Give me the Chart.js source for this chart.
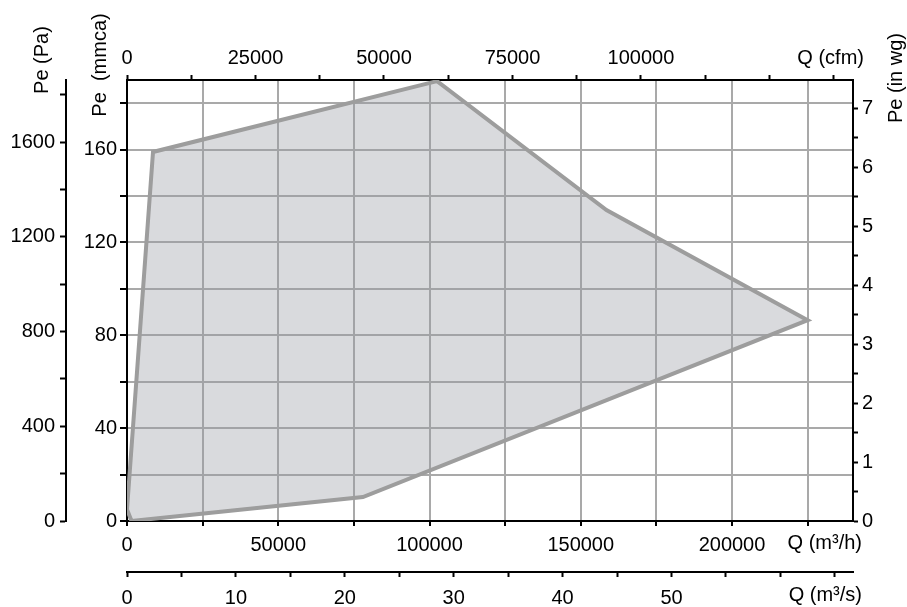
<!DOCTYPE html>
<html>
<head>
<meta charset="utf-8">
<script src="https://cdn.jsdelivr.net/npm/chart.js@4.4.1/dist/chart.umd.min.js"></script>
<style>
html, body { margin: 0; padding: 0; background: #fff; }
canvas { display: block; }
</style>
</head>
<body>
<canvas id="grafica" width="907" height="607"></canvas>
<script>
// contorno del campo de trabajo: caudal (m3/h) y presion (mmca)
const caudalM3h = [0, 1500, 78000, 225000, 158500, 102500, 8600, 0];
const presionMmca = [5, 0, 10.3, 86.5, 134, 189.5, 159, 5];

// etiquetas visibles de cada eje (las demas marcas van sin texto)
const etiquetasCfm = [0, 25000, 50000, 75000, 100000];
const etiquetasM3h = [0, 50000, 100000, 150000, 200000];
const etiquetasM3s = [0, 10, 20, 30, 40, 50];
const etiquetasPa = [0, 400, 800, 1200, 1600];
const etiquetasMmca = [0, 40, 80, 120, 160];
const etiquetasInwg = [0, 1, 2, 3, 4, 5, 6, 7];

const caudalMax = 240000; // m3/h
const presionMax = 190;   // mmca

const familia = "'Liberation Sans', Arial, sans-serif";
const fuente = { family: familia, size: 20 };

function etiquetas(lista) {
    return v => lista.includes(v) ? String(v) : '';
}

// marcas cada 'paso' desde 0 hasta el maximo del eje
function marcas(paso) {
    return s => {
        const t = [];
        for (let k = 0; k * paso <= s.max + 1e-9; k++) {
            t.push({ value: Math.round(k * paso * 1000) / 1000 });
        }
        s.ticks = t;
    };
}

function eje(extra) {
    const base = {
        type: 'linear',
        min: 0,
        grid: { drawOnChartArea: false, tickLength: 5, tickColor: '#000', tickWidth: 2 },
        border: { color: '#000', width: 2 },
        ticks: { autoSkip: false, maxRotation: 0, color: '#000', font: fuente }
    };
    return {
        ...base, ...extra,
        grid: { ...base.grid, ...(extra.grid || {}) },
        ticks: { ...base.ticks, ...(extra.ticks || {}) }
    };
}

// titulos de los ejes, dibujados sobre el canvas
const titulos = {
    id: 'titulos',
    afterDraw(chart) {
        const { ctx, chartArea: a } = chart;
        ctx.save();
        ctx.fillStyle = '#000';
        ctx.font = `20px ${familia}`;
        ctx.textBaseline = 'middle';
        ctx.textAlign = 'right';
        ctx.fillText('Q (cfm)', a.right + 11, a.top - 22);
        ctx.fillText('Q (m³/h)', a.right + 9, a.bottom + 22);
        ctx.fillText('Q (m³/s)', a.right + 9, a.bottom + 74);

        ctx.textAlign = 'center';
        const vertical = (texto, x, y) => {
            ctx.save();
            ctx.translate(x, y);
            ctx.rotate(-Math.PI / 2);
            ctx.fillText(texto, 0, 0);
            ctx.restore();
        };
        vertical('Pe (Pa)', 42, 60);
        vertical('Pe  (mmca)', 100, 65);
        vertical('Pe (in wg)', 896, 78);
        ctx.restore();
    }
};

new Chart(document.getElementById('grafica'), {
    type: 'line',
    data: {
        datasets: [{
            data: caudalM3h.map((q, i) => ({ x: q, y: presionMmca[i] })),
            borderColor: '#9d9d9d',
            borderWidth: 4,
            backgroundColor: 'rgba(150, 153, 160, 0.36)',
            fill: 'shape',
            pointRadius: 0,
            tension: 0
        }]
    },
    options: {
        responsive: false,
        animation: false,
        layout: { padding: 0 },
        plugins: { legend: { display: false }, tooltip: { enabled: false } },
        scales: {
            x: eje({
                position: 'bottom', weight: 0, max: caudalMax,
                grid: { drawOnChartArea: true, color: '#a9a9a9', lineWidth: 2 },
                ticks: { padding: 7, callback: etiquetas(etiquetasM3h) },
                afterBuildTicks: marcas(25000),
                afterFit: s => { s.height = 51; }
            }),
            x2: eje({
                position: 'top', max: caudalMax / 1.699011,
                ticks: { padding: 5, callback: etiquetas(etiquetasCfm) },
                afterBuildTicks: marcas(12500),
                afterFit: s => { s.height = 80; }
            }),
            x3: eje({
                position: 'bottom', weight: 1, max: caudalMax / 3600,
                ticks: { padding: 9, callback: etiquetas(etiquetasM3s) },
                afterBuildTicks: marcas(5),
                afterFit: s => { s.height = 35; }
            }),
            y: eje({
                position: 'left', weight: 0, max: presionMax,
                grid: { drawOnChartArea: true, color: '#a9a9a9', lineWidth: 2, tickLength: 7 },
                ticks: { padding: 3, callback: etiquetas(etiquetasMmca) },
                afterBuildTicks: marcas(20),
                afterFit: s => { s.width = 61; }
            }),
            y2: eje({
                position: 'left', weight: 1, max: presionMax * 9.80665,
                grid: { tickLength: 6 },
                ticks: { padding: 5, callback: etiquetas(etiquetasPa) },
                afterBuildTicks: marcas(200),
                afterFit: s => { s.width = 66; }
            }),
            y3: eje({
                position: 'right', max: presionMax / 25.4,
                ticks: { padding: 4, callback: etiquetas(etiquetasInwg) },
                afterBuildTicks: marcas(0.5),
                afterFit: s => { s.width = 54; }
            })
        }
    },
    plugins: [titulos]
});
</script>
</body>
</html>
